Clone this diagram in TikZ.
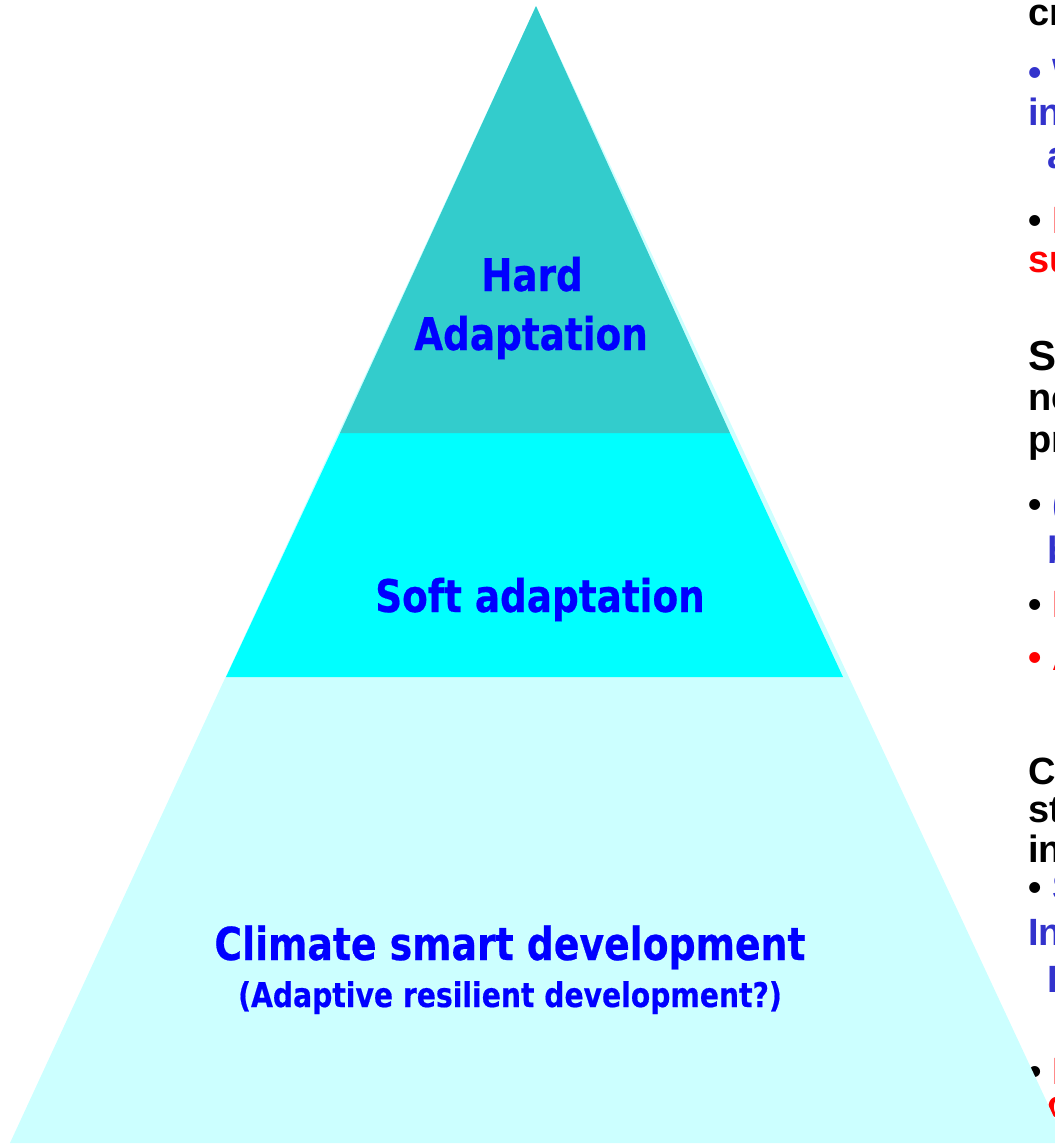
\documentclass[tikz,border=0pt]{standalone}
\usepackage{fontspec}
\setmainfont{Liberation Sans}
\newfontfamily\tahoma[FakeStretch=0.83,FakeBold=0.5]{DejaVu Sans}
\definecolor{bandtop}{HTML}{33CCCC}
\definecolor{bandmid}{HTML}{00FFFF}
\definecolor{bandlow}{HTML}{CCFFFF}
\definecolor{noteblue}{HTML}{3333CC}

\begin{document}
\begin{tikzpicture}[x=1pt,y=-1pt,
    lab/.style={anchor=base,text=blue,inner sep=0pt,
      font=\tahoma\bfseries\fontsize{45}{50}\selectfont},
    note/.style={anchor=base west,inner sep=0pt,
      font=\bfseries\fontsize{38}{40}\selectfont}]
    \path [use as bounding box,clip] (0,0) rectangle (1055,1144);
    % slide text running off the right edge
    \node [note] (cr) at (1028,25) {cr};
    \node [note,text=noteblue] (w) at (1028,85) {• W};
    \node [note,text=noteblue] (in1) at (1028,125) {in};
    \node [note,text=noteblue] (a) at (1047,168) {a};
    \node [note] (i1) at (1028,233) {• \textcolor{red}{I}};
    \node [note,text=red] (su) at (1028,272) {su};
    \node [note,font=\bfseries\fontsize{42}{44}\selectfont] (s1) at (1028,370) {S};
    \node [note] (ne) at (1028,410) {ne};
    \node [note] (pr) at (1028,452) {pr};
    \node [note] (par) at (1028,517) {• \textcolor{noteblue}{(}};
    \node [note,text=noteblue] (b) at (1047,563) {b};
    \node [note] (i2) at (1028,617) {• \textcolor{red}{I}};
    \node [note,text=red] (a2) at (1028,670) {• A};
    \node [note] (c1) at (1028,784) {C};
    \node [note] (st) at (1028,822) {st};
    \node [note] (in2) at (1028,862) {in};
    \node [note] (s2) at (1028,900) {• \textcolor{noteblue}{S}};
    \node [note,text=noteblue] (in3) at (1028,945) {In};
    \node [note,text=noteblue] (i3) at (1047,992) {I};
    \node [note] (i4) at (1028,1084) {• \textcolor{red}{I}};
    \node [note,text=red] (c2) at (1047,1117) {c};
    % pyramid
    \fill [bandlow] (536,6) -- (10,1143) -- (1066,1143) -- cycle;
    \fill [bandmid] (340,433) -- (730,433) -- (843,677) -- (226,677) -- cycle;
    \fill [bandtop] (536,6) -- (340,433) -- (730,433) -- cycle;
    \node [lab] (hard) at (532,291) {Hard};
    \node [lab] (hardb) at (531,350) {Adaptation};
    \node [lab] (soft) at (540,612) {Soft adaptation};
    \node [lab,font=\tahoma\bfseries\fontsize{45.5}{50}\selectfont] (smart) at (510,960) {Climate smart development};
    \node [lab,font=\tahoma\bfseries\fontsize{34}{36}\selectfont] (smartb) at (510,1007) {(Adaptive resilient development?)};
\end{tikzpicture}
\end{document}
